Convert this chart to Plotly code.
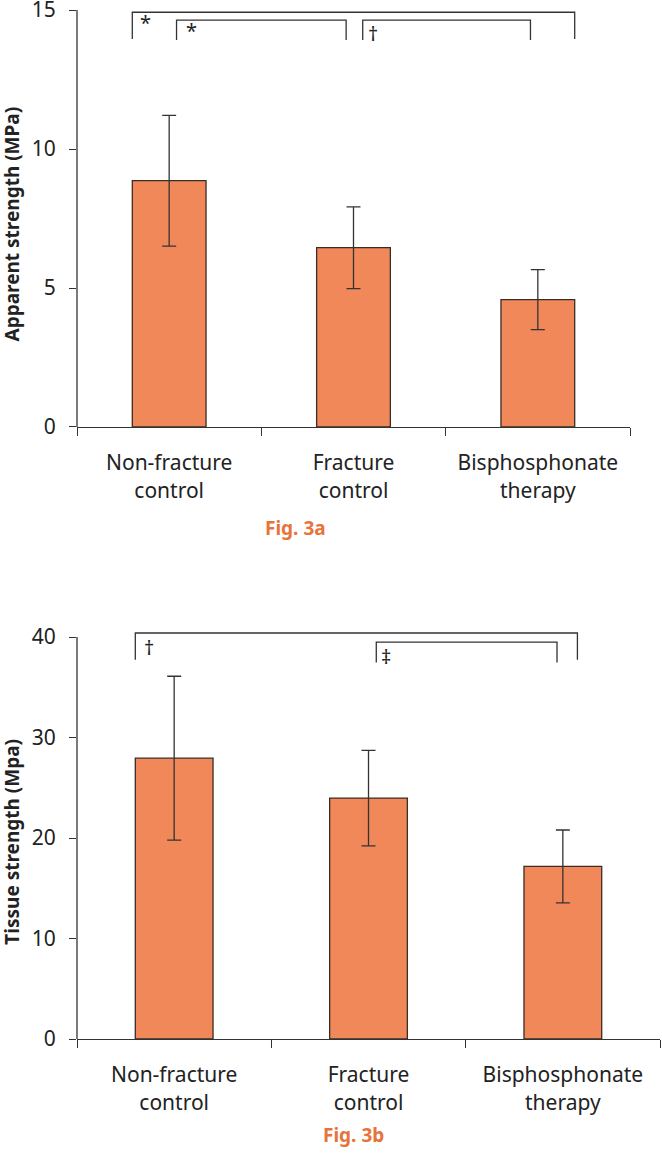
import plotly.graph_objects as go

categories = ["Non-fracture<br>control", "Fracture<br>control", "Bisphosphonate<br>therapy"]

apparent_mean = [8.86, 6.45, 4.58]
apparent_err = [2.35, 1.47, 1.08]

tissue_mean = [27.95, 23.97, 17.17]
tissue_err = [8.15, 4.75, 3.63]

top_ticks = [0, 5, 10, 15]
bottom_ticks = [0, 10, 20, 30, 40]

# significance brackets: (x_left, x_right, y_top, y_bottom)
top_brackets = [(-0.2, 2.2, 14.92, 13.96), (0.04, 0.96, 14.64, 13.92), (1.05, 1.96, 14.64, 13.92)]
top_marks = [(-0.13, 14.55, "*"), (0.12, 14.27, "*"), (1.108, 14.17, "†")]
bottom_brackets = [(-0.2, 2.075, 40.4, 37.74), (1.04, 1.97, 39.5, 37.47)]
bottom_marks = [(-0.13, 38.95, "†"), (1.088, 38.05, "‡")]

BAR = "#F0885A"
EDGE = "#3a2c26"
AX = "#333333"
FONT = "Noto Sans"

fig = go.Figure()
fig.add_trace(go.Bar(x=categories, y=apparent_mean, width=0.4, xaxis="x", yaxis="y",
                     marker=dict(color=BAR, line=dict(color=EDGE, width=1.3)),
                     error_y=dict(type="data", array=apparent_err, color=AX, thickness=1.3, width=7),
                     showlegend=False))
fig.add_trace(go.Bar(x=categories, y=tissue_mean, width=0.4, xaxis="x2", yaxis="y2",
                     marker=dict(color=BAR, line=dict(color=EDGE, width=1.3)),
                     error_y=dict(type="data", array=tissue_err, color=AX, thickness=1.3, width=7),
                     showlegend=False))

shapes = []
for (x0, x1, yt, yb) in top_brackets:
    shapes.append(dict(type="path", xref="x", yref="y",
                       path=f"M {x0},{yb} L {x0},{yt} L {x1},{yt} L {x1},{yb}",
                       line=dict(color=AX, width=1.3)))
for (x0, x1, yt, yb) in bottom_brackets:
    shapes.append(dict(type="path", xref="x2", yref="y2",
                       path=f"M {x0},{yb} L {x0},{yt} L {x1},{yt} L {x1},{yb}",
                       line=dict(color=AX, width=1.3)))
# y axis lines (only up to last tick)
shapes.append(dict(type="line", xref="x domain", yref="y", x0=0, x1=0, y0=0, y1=top_ticks[-1],
                   line=dict(color=AX, width=1.3)))
shapes.append(dict(type="line", xref="x2 domain", yref="y2", x0=0, x1=0, y0=0, y1=bottom_ticks[-1],
                   line=dict(color=AX, width=1.3)))

ann = []
for (x, y, t) in top_marks:
    ann.append(dict(x=x, y=y, xref="x", yref="y", text=t, showarrow=False,
                    font=dict(size=20, color="#222", family=FONT), xanchor="center", yanchor="middle"))
for (x, y, t) in bottom_marks:
    ann.append(dict(x=x, y=y, xref="x2", yref="y2", text=t, showarrow=False,
                    font=dict(size=20, color="#222", family=FONT), xanchor="center", yanchor="middle"))

ann.append(dict(x=-0.111, y=0.784, xref="paper", yref="paper", text="<b>Apparent strength (MPa)</b>",
                textangle=-90, showarrow=False, font=dict(size=19, color="#222", family=FONT),
                xanchor="center", yanchor="middle"))
ann.append(dict(x=-0.111, y=0.19, xref="paper", yref="paper", text="<b>Tissue strength (Mpa)</b>",
                textangle=-90, showarrow=False, font=dict(size=19, color="#222", family=FONT),
                xanchor="center", yanchor="middle"))
ann.append(dict(x=0.374, y=0.4918, xref="paper", yref="paper", text="<b>Fig. 3a</b>",
                showarrow=False, font=dict(size=19, color="#E8733A", family=FONT),
                xanchor="center", yanchor="middle"))
ann.append(dict(x=0.4735, y=-0.0924, xref="paper", yref="paper", text="<b>Fig. 3b</b>",
                showarrow=False, font=dict(size=19, color="#E8733A", family=FONT),
                xanchor="center", yanchor="middle"))

xcommon = dict(type="category", showline=True, linecolor=AX, linewidth=1.3, ticks="outside",
               tickson="boundaries", ticklen=8, tickcolor=AX, tickwidth=1.3, showgrid=False,
               zeroline=False, tickfont=dict(size=21, color="#222", family=FONT), range=[-0.5, 2.5],
               ticklabelstandoff=17)
ycommon = dict(ticks="outside", ticklen=7, tickcolor=AX, tickwidth=1.3, showgrid=False,
               zeroline=False, showline=False, tickfont=dict(size=21, color="#222", family=FONT),
               ticklabelstandoff=9, ticklabeloverflow="allow")

fig.update_layout(
    width=662, height=1153,
    margin=dict(l=77, r=0, t=0, b=114, autoexpand=False),
    paper_bgcolor="white", plot_bgcolor="white",
    bargap=0.6,
    xaxis=dict(domain=[0, 0.9453], anchor="y", **xcommon),
    yaxis=dict(domain=[0.58903, 0.99836], anchor="x", range=[0, 15.3], tickvals=top_ticks, **ycommon),
    xaxis2=dict(domain=[0, 0.9966], anchor="y2", **xcommon),
    yaxis2=dict(domain=[0, 0.39654], anchor="x2", range=[0, 41], tickvals=bottom_ticks, **ycommon),
    shapes=shapes,
    annotations=ann,
)

fig.write_html("out.html", config={"displayModeBar": False},
               post_script="document.body.style.margin='0';")
